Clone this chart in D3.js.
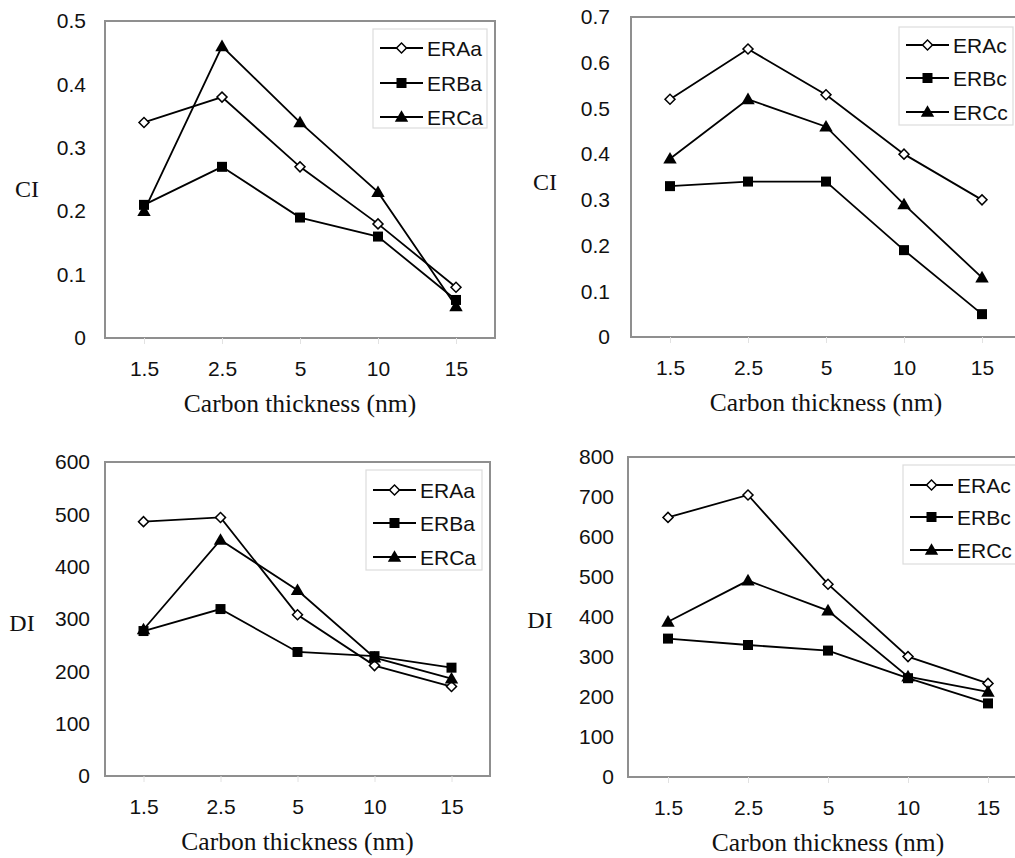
<!DOCTYPE html>
<html>
<head>
<meta charset="utf-8">
<script src="https://cdn.jsdelivr.net/npm/d3@7"></script>
<style>
  body { margin: 0; background: #fff; }
  svg { display: block; }
</style>
</head>
<body>
<div id="chart"></div>
<script>
// categorias del eje x (espesor de carbono, nm)
const thickness = ["1.5", "2.5", "5", "10", "15"];

// CI, muestras "a"
const ciERAa = [0.34, 0.38, 0.27, 0.18, 0.08];
const ciERBa = [0.21, 0.27, 0.19, 0.16, 0.06];
const ciERCa = [0.20, 0.46, 0.34, 0.23, 0.05];

// CI, muestras "c"
const ciERAc = [0.52, 0.63, 0.53, 0.40, 0.30];
const ciERBc = [0.33, 0.34, 0.34, 0.19, 0.05];
const ciERCc = [0.39, 0.52, 0.46, 0.29, 0.13];

// DI, muestras "a"
const diERAa = [486, 494, 308, 211, 171];
const diERBa = [277, 319, 237, 229, 207];
const diERCa = [280, 451, 355, 226, 186];

// DI, muestras "c"
const diERAc = [649, 705, 482, 301, 234];
const diERBc = [346, 330, 316, 247, 184];
const diERCc = [388, 491, 416, 251, 213];

const ciTicksA = [0, 0.1, 0.2, 0.3, 0.4, 0.5];
const ciTicksC = [0, 0.1, 0.2, 0.3, 0.4, 0.5, 0.6, 0.7];
const diTicksA = [0, 100, 200, 300, 400, 500, 600];
const diTicksC = [0, 100, 200, 300, 400, 500, 600, 700, 800];

const MARKERS = ["diamond", "square", "triangle"];

const panels = [
  { yLabel: "CI", ticks: ciTicksA, names: ["ERAa", "ERBa", "ERCa"], series: [ciERAa, ciERBa, ciERCa],
    frame: { x: 105, y: 21, w: 390, h: 317 }, tickGap: 19, yLabelX: 27, yLabelY: 197,
    legend: { x: 373, y: 29, w: 114, h: 99, rows: [48, 83, 117] } },
  { yLabel: "CI", ticks: ciTicksC, names: ["ERAc", "ERBc", "ERCc"], series: [ciERAc, ciERBc, ciERCc],
    frame: { x: 631, y: 17, w: 390, h: 320 }, tickGap: 21, yLabelX: 545, yLabelY: 190,
    legend: { x: 899, y: 27, w: 114, h: 98, rows: [45, 78, 112] } },
  { yLabel: "DI", ticks: diTicksA, names: ["ERAa", "ERBa", "ERCa"], series: [diERAa, diERBa, diERCa],
    frame: { x: 105, y: 462, w: 385, h: 314 }, tickGap: 15, yLabelX: 22, yLabelY: 631,
    legend: { x: 366, y: 470, w: 116, h: 100, rows: [490, 523, 557] } },
  { yLabel: "DI", ticks: diTicksC, names: ["ERAc", "ERBc", "ERCc"], series: [diERAc, diERBc, diERCc],
    frame: { x: 628, y: 457, w: 400, h: 320 }, tickGap: 14, yLabelX: 540, yLabelY: 628,
    legend: { x: 903, y: 465, w: 125, h: 99, rows: [485, 517, 550] } }
];

const svg = d3.select("#chart").append("svg")
  .attr("width", 1015)
  .attr("height", 858);

svg.append("rect").attr("width", 1015).attr("height", 858).attr("fill", "#fff");

function marker(g, type, x, y) {
  if (type === "diamond") {
    g.append("path")
      .attr("d", d3.symbol(d3.symbolSquare, 50)())
      .attr("transform", `translate(${x},${y}) rotate(45)`)
      .attr("fill", "#fff").attr("stroke", "#000").attr("stroke-width", 1.5);
  } else if (type === "square") {
    g.append("path")
      .attr("d", d3.symbol(d3.symbolSquare, 100)())
      .attr("transform", `translate(${x},${y})`)
      .attr("fill", "#000");
  } else {
    g.append("path")
      .attr("d", d3.symbol(d3.symbolTriangle, 78)())
      .attr("transform", `translate(${x},${y + 1})`)
      .attr("fill", "#000");
  }
}

panels.forEach(p => {
  const f = p.frame;
  const g = svg.append("g");

  const x = d3.scalePoint()
    .domain(thickness)
    .range([f.x, f.x + f.w])
    .padding(0.5);

  const y = d3.scaleLinear()
    .domain([0, d3.max(p.ticks)])
    .range([f.y + f.h, f.y]);

  // marco del area de trazado
  g.append("rect")
    .attr("x", f.x).attr("y", f.y)
    .attr("width", f.w).attr("height", f.h)
    .attr("fill", "none")
    .attr("stroke", "#8f8f8f")
    .attr("stroke-width", 2);

  // eje y (solo etiquetas)
  const yAxis = g.append("g")
    .attr("transform", `translate(${f.x},0)`)
    .call(d3.axisLeft(y).tickValues(p.ticks).tickSize(0).tickPadding(p.tickGap)
      .tickFormat(d => String(d)));
  yAxis.select(".domain").remove();
  yAxis.selectAll("text")
    .attr("font-family", "Liberation Sans, Arial, sans-serif")
    .attr("font-size", 21)
    .attr("fill", "#111");

  // eje x
  const xAxis = g.append("g")
    .attr("transform", `translate(0,${f.y + f.h})`)
    .call(d3.axisBottom(x).tickSize(6).tickPadding(17));
  xAxis.select(".domain").remove();
  xAxis.selectAll("line").attr("stroke", "#e2e2e2");
  xAxis.selectAll("text")
    .attr("font-family", "Liberation Sans, Arial, sans-serif")
    .attr("font-size", 21)
    .attr("fill", "#111");

  // titulos de ejes
  g.append("text")
    .attr("x", p.yLabelX)
    .attr("y", p.yLabelY)
    .attr("text-anchor", "middle")
    .attr("font-family", "Liberation Serif, Times New Roman, serif")
    .attr("font-size", 24)
    .attr("fill", "#111")
    .text(p.yLabel);

  g.append("text")
    .attr("x", f.x + f.w / 2)
    .attr("y", f.y + f.h + 74)
    .attr("text-anchor", "middle")
    .attr("font-family", "Liberation Serif, Times New Roman, serif")
    .attr("font-size", 25.5)
    .attr("fill", "#111")
    .text("Carbon thickness (nm)");

  // series
  const line = d3.line()
    .x((d, i) => x(thickness[i]))
    .y(d => y(d));

  p.series.forEach(s => {
    g.append("path")
      .datum(s)
      .attr("d", line)
      .attr("fill", "none")
      .attr("stroke", "#000")
      .attr("stroke-width", 1.8);
  });
  p.series.forEach((s, k) => {
    s.forEach((v, i) => marker(g, MARKERS[k], x(thickness[i]), y(v)));
  });

  // leyenda
  const L = p.legend;
  g.append("rect")
    .attr("x", L.x).attr("y", L.y)
    .attr("width", L.w).attr("height", L.h)
    .attr("fill", "#fff")
    .attr("stroke", "#dcdcdc")
    .attr("stroke-width", 1.2);

  p.names.forEach((name, k) => {
    const ry = L.rows[k];
    const x0 = L.x + 7, x1 = L.x + 50;
    g.append("line")
      .attr("x1", x0).attr("x2", x1)
      .attr("y1", ry).attr("y2", ry)
      .attr("stroke", "#000").attr("stroke-width", 1.8);
    marker(g, MARKERS[k], (x0 + x1) / 2, ry);
    g.append("text")
      .attr("x", x1 + 4)
      .attr("y", ry + 7.5)
      .attr("font-family", "Liberation Sans, Arial, sans-serif")
      .attr("font-size", 21)
      .attr("fill", "#111")
      .text(name);
  });
});
</script>
</body>
</html>
